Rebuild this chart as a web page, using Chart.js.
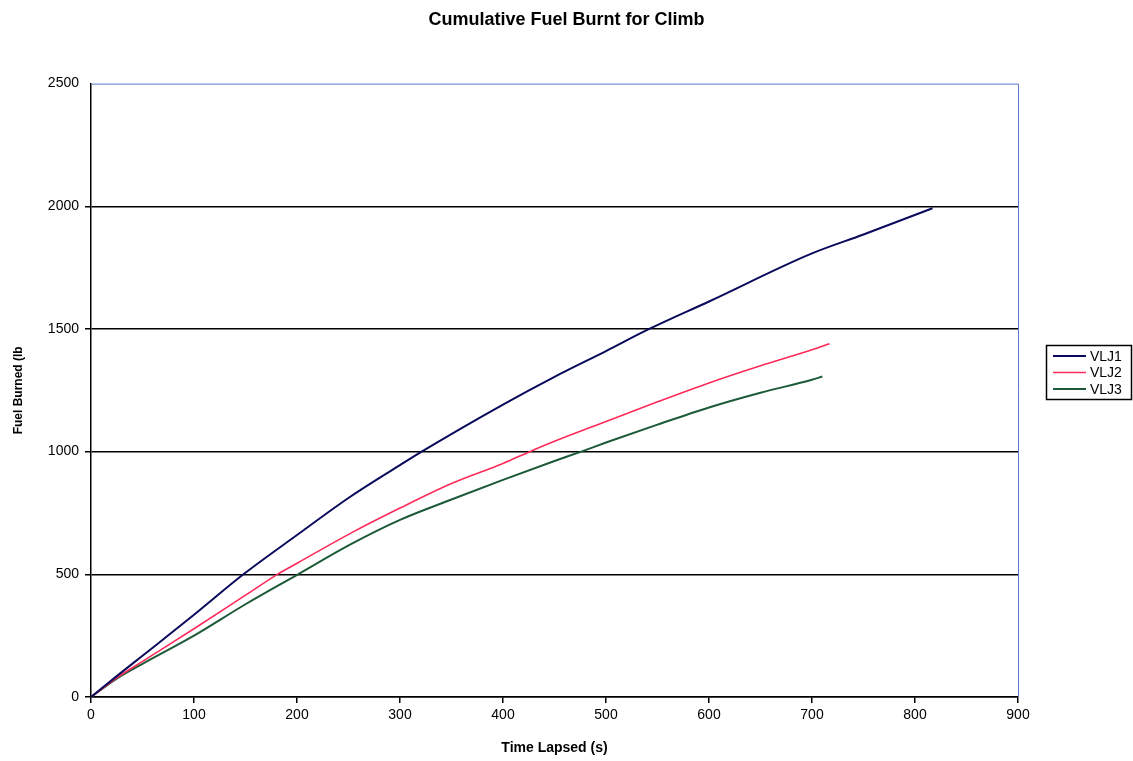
<!DOCTYPE html>
<html>
<head>
<meta charset="utf-8">
<script src="https://cdn.jsdelivr.net/npm/chart.js@4.4.0/dist/chart.umd.min.js"></script>
<style>
html,body{margin:0;padding:0;background:#fff;}
#wrap{width:1133px;height:761px;}
</style>
</head>
<body>
<div id="wrap"><canvas id="c" width="1133" height="761"></canvas></div>
<script>
const seriesNames = ["VLJ1", "VLJ2", "VLJ3"];
const vlj1Time = [0, 25, 50, 100, 148, 200, 251, 300, 321, 400, 450, 500, 542, 600, 700, 750, 817];
const vlj1Fuel = [0, 85, 168, 335, 500, 660, 814, 945, 1000, 1192, 1305, 1410, 1500, 1612, 1808, 1885, 1992];
const vlj2Time = [0, 25, 50, 100, 150, 181, 200, 251, 300, 350, 400, 426, 450, 500, 550, 600, 650, 700, 717];
const vlj2Fuel = [0, 78, 145, 278, 415, 500, 545, 665, 770, 870, 952, 1000, 1042, 1123, 1203, 1280, 1350, 1415, 1440];
const vlj3Time = [0, 25, 50, 100, 150, 201, 251, 300, 350, 400, 450, 476, 500, 550, 600, 650, 700, 710];
const vlj3Fuel = [0, 75, 135, 250, 378, 500, 620, 722, 805, 885, 962, 1000, 1037, 1110, 1180, 1240, 1293, 1306];
const xTicksMax = 900, xStep = 100;
const yTicksMax = 2500, yStep = 500;
const chartTitle = "Cumulative Fuel Burnt for Climb";
const xTitle = "Time Lapsed (s)";
const yTitle = "Fuel Burned (lb";

const colors = ["#0a0a5c", "#ff2a5a", "#1d5a38"];
const widths = [2, 1.6, 2];

function pts(xs, ys){ return xs.map((x,i)=>({x:x, y:ys[i]})); }
const allSeries = [[vlj1Time, vlj1Fuel],[vlj2Time, vlj2Fuel],[vlj3Time, vlj3Fuel]];

const FONT = "'Liberation Sans', Arial, sans-serif";

const frame = {
  id: 'frame',
  afterDraw(chart){
    const {ctx, chartArea:a} = chart;
    ctx.save();
    ctx.strokeStyle = '#5a78c8';
    ctx.lineWidth = 1;
    ctx.beginPath();
    ctx.moveTo(a.left, a.top+0.5);
    ctx.lineTo(a.right+0.5, a.top+0.5);
    ctx.lineTo(a.right+0.5, a.bottom);
    ctx.stroke();
    // legend
    const lx = 1046, ly = 345, lw = 85, lh = 54;
    ctx.strokeStyle = '#000';
    ctx.lineWidth = 1.5;
    ctx.strokeRect(lx+0.5, ly+0.5, lw, lh);
    ctx.font = "14px " + FONT;
    ctx.textBaseline = 'middle';
    ctx.fillStyle = '#000';
    chart.data.datasets.forEach((ds, i) => {
      const yy = ly + 11 + i*16.5;
      ctx.strokeStyle = ds.borderColor;
      ctx.lineWidth = ds.borderWidth;
      ctx.beginPath();
      ctx.moveTo(lx+7, yy); ctx.lineTo(lx+40, yy); ctx.stroke();
      ctx.fillText(ds.label, lx+44, yy+1);
    });
    ctx.restore();
  }
};

new Chart(document.getElementById('c'), {
  type: 'line',
  data: {
    datasets: allSeries.map((s, i) => ({
      label: seriesNames[i],
      data: pts(s[0], s[1]),
      borderColor: colors[i],
      backgroundColor: colors[i],
      borderWidth: widths[i],
      pointRadius: 0,
      cubicInterpolationMode: 'monotone',
      fill: false
    }))
  },
  options: {
    responsive: false,
    animation: false,
    events: [],
    layout: { padding: { left: 0, right: 0, top: 0, bottom: 0 } },
    plugins: {
      legend: { display: false },
      tooltip: { enabled: false },
      title: {
        display: true,
        text: chartTitle,
        color: '#000',
        font: { family: FONT, size: 18, weight: 'bold' },
        padding: { top: 9, bottom: 53 }
      }
    },
    scales: {
      x: {
        type: 'linear',
        min: 0, max: xTicksMax,
        ticks: { stepSize: xStep, color: '#000', font: { family: FONT, size: 14 }, padding: 4, maxRotation: 0, callback: v => String(v) },
        grid: { display: true, drawOnChartArea: false, color: '#000', tickLength: 6, lineWidth: 1.5 },
        border: { display: true, color: '#000', width: 1.5 },
        title: { display: true, text: xTitle, color: '#000', font: { family: FONT, size: 14, weight: 'bold' }, padding: { top: 8 } },
        afterFit(scale){ scale.height = 64; }
      },
      y: {
        min: 0, max: yTicksMax,
        ticks: { stepSize: yStep, color: '#000', font: { family: FONT, size: 14 }, padding: 6, callback: v => String(v) },
        grid: { color: ctx => (ctx.tick && ctx.tick.value === yTicksMax) ? 'rgba(0,0,0,0)' : '#000', lineWidth: 1.5, tickLength: 6 },
        border: { display: true, color: '#000', width: 1.5 },
        title: { display: true, text: yTitle, color: '#000', font: { family: FONT, size: 12, weight: 'bold' }, padding: { top: 11, bottom: 0 } },
        afterFit(scale){ scale.width = 91; }
      },
      yRight: {
        position: 'right',
        display: true,
        min: 0, max: yTicksMax,
        ticks: { display: false },
        grid: { display: false, drawOnChartArea: false },
        border: { display: false },
        afterFit(scale){ scale.width = 115; }
      }
    }
  },
  plugins: [frame]
});
</script>
</body>
</html>
